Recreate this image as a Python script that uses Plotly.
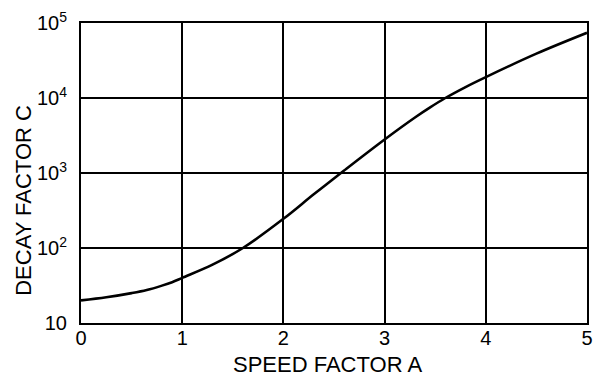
import plotly.graph_objects as go

speed_a = [0, 0.25, 0.5, 0.65, 0.8, 0.9, 1.0, 1.3, 1.6, 2.0, 2.3, 2.6, 3.0, 3.3, 3.45, 3.6, 3.8, 4.0, 4.5, 5.0]
decay_c = [20, 22, 25, 27.5, 31.5, 35, 40, 60, 100, 245, 520, 1080, 2800, 5500, 7500, 10000, 14000, 19000, 39000, 74000]

x_ticks = [0, 1, 2, 3, 4, 5]
y_ticks = [10, 100, 1000, 10000, 100000]
y_ticktext = ["10", "10<sup>2</sup>", "10<sup>3</sup>", "10<sup>4</sup>", "10<sup>5</sup>"]

family = "Liberation Sans, Arial, sans-serif"
tick_font = dict(family=family, size=20, color="black")
title_font = dict(family=family, size=22, color="black")

fig = go.Figure()
fig.add_trace(go.Scatter(
    x=speed_a, y=decay_c, mode="lines",
    line=dict(color="black", width=2.6, shape="spline", smoothing=1.0),
    hoverinfo="skip", showlegend=False,
))

fig.update_layout(
    width=597, height=376,
    margin=dict(l=81, r=4, t=23, b=53),
    paper_bgcolor="white", plot_bgcolor="white",
    font=tick_font,
    annotations=[
        dict(text="SPEED FACTOR A", xref="paper", yref="paper",
             x=0.487, y=-0.137, xanchor="center", yanchor="middle",
             showarrow=False, font=title_font),
        dict(text="DECAY FACTOR C", xref="paper", yref="paper",
             x=-0.115, y=0.41, xanchor="center", yanchor="middle",
             textangle=-90, showarrow=False, font=title_font),
    ],
)
fig.update_xaxes(
    range=[0, 5], tickvals=x_ticks, ticktext=[str(v) for v in x_ticks],
    tickfont=tick_font,
    showgrid=True, gridcolor="black", gridwidth=1.5,
    showline=True, linecolor="black", linewidth=2, mirror=True,
    ticks="", ticklabelstandoff=-4, zeroline=False,
)
fig.update_yaxes(
    type="log", range=[1, 5], tickvals=y_ticks, ticktext=y_ticktext,
    tickfont=tick_font,
    showgrid=True, gridcolor="black", gridwidth=1.5,
    showline=True, linecolor="black", linewidth=2, mirror=True,
    ticks="", ticklabelstandoff=8, zeroline=False,
)

fig.write_html("out.html")
